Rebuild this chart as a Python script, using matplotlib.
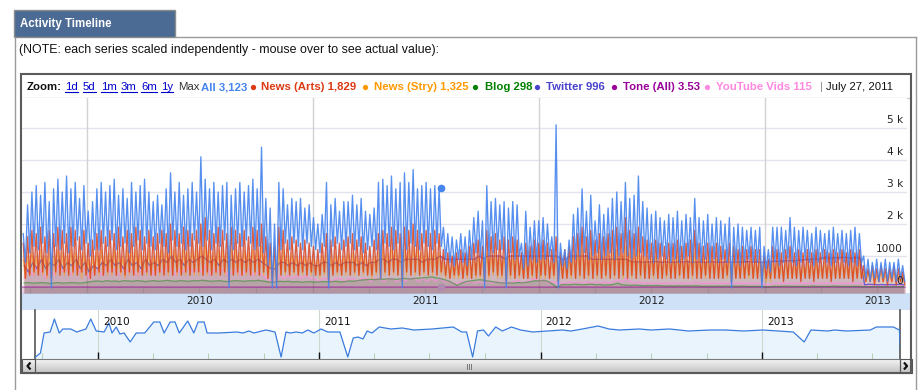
import numpy as np
import matplotlib
matplotlib.use("Agg")
import matplotlib.pyplot as plt
import matplotlib.dates as mdates
import matplotlib.transforms as mtrans
from matplotlib.patches import Rectangle

# ---------------- data ----------------
start_date = "2009-09-18"
# weekly values (hundreds): weekday peak / weekend trough
all_peak = [17, 26, 30, 32, 29, 33, 27, 31, 34, 30,
            35, 31, 33, 28, 32, 24, 27, 31, 33, 30,
            32, 34, 29, 31, 28, 33, 30, 32, 34, 30,
            27, 29, 26, 31, 36, 30, 33, 29, 31, 33,
            30, 41, 34, 31, 33, 30, 32, 33, 29, 31,
            33, 30, 32, 34, 31, 44, 28, 25, 20, 33,
            31, 26, 28, 27, 28, 25, 26, 22, 20, 23,
            33, 26, 28, 24, 27, 27, 29, 26, 28, 24,
            23, 25, 33, 34, 32, 35, 31, 33, 36, 33,
            37, 31, 32, 33, 31, 32, 31, 19, 17, 16,
            15, 17, 16, 18, 22, 24, 21, 32, 27, 28,
            26, 27, 25, 27, 26, 14, 24, 19, 21, 21,
            22, 20, 16, 51, 14, 12, 15, 23, 25, 31,
            24, 29, 21, 26, 23, 25, 28, 30, 27, 33,
            28, 29, 35, 27, 25, 23, 24, 22, 21, 23,
            22, 24, 21, 23, 22, 28, 22, 21, 23, 20,
            22, 21, 20, 22, 19, 20, 19, 18, 19, 18,
            19, 13, 12, 19, 19, 19, 18, 22, 19, 18,
            19, 18, 17, 19, 18, 17, 18, 19, 17, 18,
            17, 18, 19, 17, 10, 9, 8, 9, 8, 9,
            8, 8, 9, 7]
all_trough = [8, 11, 13, 12, 14, 11, 0, 13, 12, 14,
              11, 13, 15, 12, 14, 10, 12, 12, 14, 13,
              15, 12, 13, 14, 11, 13, 15, 12, 14, 13,
              12, 14, 13, 11, 15, 13, 14, 12, 13, 15,
              14, 13, 15, 12, 14, 13, 15, 0, 12, 14,
              13, 15, 14, 12, 13, 11, 7, 0, 0, 12,
              14, 12, 14, 13, 12, 14, 13, 12, 11, 13,
              0, 13, 14, 12, 13, 14, 12, 13, 11, 12,
              13, 12, 3, 14, 13, 12, 14, 0, 12, 14,
              13, 12, 14, 13, 12, 14, 13, 9, 8, 7,
              9, 8, 7, 9, 11, 10, 0, 10, 11, 12,
              12, 0, 11, 9, 10, 6, 7, 9, 8, 9,
              9, 10, 8, 0, 7, 6, 8, 9, 10, 11,
              9, 10, 11, 9, 10, 11, 9, 10, 11, 10,
              9, 10, 11, 10, 9, 8, 9, 10, 9, 8,
              9, 8, 9, 10, 8, 9, 8, 9, 8, 9,
              8, 9, 8, 0, 8, 7, 8, 9, 8, 8,
              0, 6, 5, 8, 7, 8, 9, 8, 7, 8,
              9, 8, 7, 8, 9, 8, 7, 8, 9, 8,
              7, 8, 7, 8, 3, 2, 3, 2, 3, 2,
              3, 2, 3, 2]
arts_peak = [14, 16, 18, 17, 19, 16, 18, 17, 19, 18,
             17, 19, 18, 16, 18, 14, 15, 17, 18, 16,
             18, 17, 19, 16, 18, 17, 19, 18, 16, 18,
             16, 17, 18, 17, 20, 18, 17, 19, 18, 17,
             18, 20, 22, 18, 17, 19, 18, 17, 19, 18,
             17, 18, 16, 19, 18, 20, 16, 14, 13, 19,
             18, 15, 16, 15, 14, 15, 14, 13, 12, 14,
             17, 15, 16, 14, 15, 16, 17, 15, 16, 14,
             13, 15, 17, 18, 17, 19, 18, 17, 19, 18,
             20, 18, 17, 18, 17, 18, 17, 12, 11, 10,
             11, 12, 11, 13, 14, 15, 13, 18, 16, 17,
             15, 16, 15, 16, 15, 11, 14, 13, 15, 14,
             15, 14, 12, 16, 11, 12, 13, 16, 17, 19,
             16, 18, 15, 17, 16, 17, 18, 19, 17, 22,
             18, 17, 19, 16, 15, 14, 15, 14, 13, 14,
             14, 15, 13, 14, 15, 18, 14, 13, 14, 13,
             14, 13, 12, 14, 13, 12, 13, 12, 13, 12,
             12, 10, 9, 13, 12, 11, 12, 13, 11, 12,
             11, 12, 11, 12, 11, 12, 11, 12, 11, 12,
             11, 12, 11, 12, 7, 6, 7, 6, 7, 6,
             6, 7, 6, 5]
arts_trough = [3, 4, 5, 4, 5, 4, 3, 5, 4, 5,
               4, 5, 4, 5, 4, 3, 4, 5, 4, 5,
               5, 4, 5, 4, 5, 4, 5, 4, 5, 4,
               4, 5, 4, 5, 4, 5, 4, 5, 4, 5,
               5, 4, 5, 4, 5, 4, 5, 2, 4, 5,
               4, 5, 4, 5, 4, 5, 3, 2, 2, 4,
               5, 4, 5, 4, 5, 4, 5, 4, 4, 5,
               2, 4, 5, 4, 5, 4, 5, 4, 5, 4,
               4, 5, 3, 5, 4, 5, 4, 2, 5, 4,
               5, 4, 5, 4, 5, 4, 5, 4, 3, 4,
               4, 3, 4, 3, 4, 4, 2, 4, 5, 4,
               4, 2, 4, 3, 4, 3, 3, 4, 3, 4,
               4, 3, 4, 2, 3, 3, 4, 3, 4, 3,
               4, 3, 4, 3, 4, 3, 4, 3, 4, 3,
               4, 3, 4, 3, 3, 4, 3, 3, 4, 3,
               3, 4, 3, 3, 4, 3, 3, 4, 3, 3,
               3, 3, 4, 2, 3, 3, 3, 4, 3, 3,
               2, 3, 3, 3, 3, 2, 3, 3, 3, 2,
               3, 3, 2, 3, 3, 3, 2, 3, 3, 3,
               3, 2, 3, 3, 2, 2, 1, 2, 2, 1,
               2, 1, 2, 1]
stry_peak = [9, 10, 11, 10, 12, 10, 11, 10, 12, 11,
             10, 12, 11, 10, 11, 9, 10, 11, 12, 10,
             11, 12, 11, 10, 12, 11, 12, 11, 10, 12,
             10, 11, 12, 11, 13, 12, 11, 12, 11, 12,
             12, 13, 14, 12, 11, 12, 12, 11, 12, 12,
             11, 12, 11, 12, 12, 13, 10, 9, 9, 12,
             12, 10, 11, 10, 10, 10, 10, 9, 9, 10,
             11, 10, 11, 10, 10, 11, 11, 10, 11, 10,
             9, 10, 11, 12, 11, 12, 12, 11, 12, 12,
             13, 12, 11, 12, 11, 12, 11, 8, 8, 7,
             8, 8, 8, 9, 9, 10, 9, 11, 10, 11,
             10, 10, 10, 10, 10, 8, 9, 9, 10, 9,
             10, 9, 8, 10, 8, 8, 9, 10, 11, 12,
             10, 11, 10, 11, 10, 11, 11, 12, 11, 13,
             11, 11, 12, 10, 10, 9, 10, 9, 9, 9,
             9, 10, 9, 9, 10, 11, 9, 9, 9, 9,
             9, 9, 8, 9, 9, 8, 9, 8, 9, 8,
             8, 7, 6, 8, 8, 7, 8, 8, 7, 8,
             7, 8, 7, 8, 7, 8, 7, 8, 7, 8,
             7, 8, 7, 8, 5, 5, 5, 4, 5, 4,
             4, 5, 4, 4]
stry_trough = [3, 4, 4, 4, 4, 3, 2, 4, 4, 4,
               4, 4, 4, 3, 4, 3, 4, 4, 4, 4,
               4, 4, 4, 3, 4, 4, 4, 4, 4, 4,
               4, 4, 4, 4, 4, 4, 4, 4, 4, 4,
               4, 4, 4, 4, 4, 4, 4, 2, 4, 4,
               4, 4, 4, 4, 4, 4, 3, 2, 2, 4,
               4, 4, 4, 4, 4, 4, 4, 4, 3, 4,
               2, 4, 4, 4, 4, 4, 4, 4, 4, 4,
               3, 4, 3, 4, 4, 4, 4, 2, 4, 4,
               4, 4, 4, 4, 4, 4, 4, 3, 3, 3,
               3, 3, 3, 3, 3, 3, 2, 3, 4, 3,
               3, 2, 3, 3, 3, 3, 3, 3, 3, 3,
               3, 3, 3, 2, 3, 3, 3, 3, 3, 3,
               3, 3, 3, 3, 3, 3, 3, 3, 3, 3,
               3, 3, 3, 3, 3, 3, 3, 3, 3, 3,
               3, 3, 3, 3, 3, 3, 3, 3, 3, 3,
               3, 3, 3, 2, 3, 3, 3, 3, 3, 3,
               2, 2, 2, 3, 3, 3, 3, 3, 3, 3,
               3, 3, 3, 3, 3, 3, 3, 3, 3, 3,
               3, 3, 3, 3, 2, 2, 2, 2, 2, 2,
               2, 2, 2, 2]
# weekly values (hundreds)
twitter_week = [7, 5, 8, 6, 9, 6, 8, 7, 9, 6,
                8, 7, 9, 6, 8, 5, 7, 6, 8, 7,
                9, 7, 8, 6, 9, 7, 8, 6, 9, 7,
                8, 7, 9, 8, 10, 8, 9, 7, 9, 8,
                9, 10, 9, 8, 9, 7, 9, 8, 9, 8,
                9, 8, 9, 8, 9, 8, 7, 6, 6, 8,
                8, 7, 8, 7, 8, 7, 8, 7, 7, 8,
                8, 7, 8, 7, 8, 8, 8, 7, 8, 7,
                8, 8, 9, 9, 8, 9, 9, 8, 9, 9,
                9, 9, 8, 9, 9, 9, 10, 9, 9, 9,
                9, 9, 9, 9, 9, 10, 9, 10, 10, 10,
                10, 9, 10, 10, 10, 10, 10, 10, 10, 10,
                10, 10, 10, 10, 9, 9, 10, 10, 10, 10,
                10, 9, 9, 9, 9, 9, 9, 9, 9, 9,
                8.3, 8.1, 8.2, 8.0, 8.2, 8.1, 8.3, 8.0, 8.2, 8.1,
                8.0, 8.2, 8.1, 8.3, 8.0, 8.1, 8.2, 8.0, 8.1, 8.2,
                8.1, 8.0, 8.2, 8.1, 8.0, 8.2, 8.1, 8.3, 8.1, 8.2,
                8.0, 8.1, 8.2, 8.4, 8.3, 8.5, 8.4, 8.6, 8.5, 8.7,
                8.8, 8.9, 9.1, 9.0, 9.3, 9.6, 9.2, 9.5, 9.4, 9.7,
                9.5, 9.3, 9.6, 9.4, 1.0, 1.2, 1.1, 1.0, 1.1, 1.0,
                1.1, 1.0, 1.2, 1.0]
youtube_week = [3, 6, 4, 7, 5, 3, 6, 4, 7, 5,
                6, 4, 7, 5, 6, 3, 5, 6, 4, 7,
                5, 6, 4, 7, 5, 6, 4, 6, 5, 7,
                4, 6, 5, 7, 6, 4, 6, 5, 7, 5,
                6, 5, 7, 4, 6, 5, 6, 4, 5, 6,
                4, 5, 6, 4, 5, 4, 3, 2, 2, 4,
                3, 4, 3, 4, 3, 4, 3, 3, 2, 3,
                3, 2, 3, 3, 2, 3, 3, 2, 3, 3,
                2, 3, 3, 2, 3, 3, 2, 3, 2, 3,
                3, 2, 3, 2, 3, 2, 3, 2, 2, 1.5,
                1.5, 2, 1.5, 2, 1.5, 2, 1.5, 2, 1.5, 2,
                1.5, 2, 1.5, 2, 2.5, 1.5, 2, 2.5, 3, 2,
                2.5, 1.5, 2, 1.5, 1.5, 1.5, 2, 1.5, 2, 1.5,
                2, 1.5, 2, 1.5, 2, 1.5, 2, 2.5, 2, 3,
                2, 1.5, 2, 1.5, 1.5, 1.5, 1.5, 1.5, 1.5, 1.5,
                1.5, 1.5, 1.5, 1.5, 1.5, 2, 1.5, 1.5, 1.5, 1.5,
                1.5, 1.5, 1.5, 1.5, 1.5, 1.5, 1.5, 1.5, 1.5, 1.5,
                1.5, 1, 1, 1.5, 1.5, 1.5, 1.5, 1.5, 1.5, 1.5,
                1.5, 1.5, 1.5, 1.5, 1.5, 1.5, 1.5, 1.5, 1.5, 1.5,
                1.5, 1.5, 1.5, 1.5, 1, 1, 1, 1, 1, 1,
                1, 1, 1, 1]
blog_week = [1.6, 1.7, 1.5, 1.6, 1.7, 1.6, 1.4, 1.6, 1.7, 1.5,
             1.6, 1.7, 1.6, 1.5, 1.7, 1.9, 2.1, 2.2, 2.0, 2.3,
             2.1, 2.2, 2.0, 2.3, 2.2, 2.1, 2.3, 2.2, 2.0, 2.2,
             2.3, 2.1, 2.2, 2.4, 2.2, 2.1, 2.3, 2.2, 2.1, 2.3,
             2.2, 2.4, 2.3, 2.1, 2.2, 2.3, 2.1, 2.0, 2.2, 2.3,
             2.2, 2.1, 2.3, 2.2, 2.4, 2.2, 2.0, 1.8, 1.9, 2.1,
             2.0, 2.1, 1.9, 2.0, 1.8, 1.9, 2.0, 1.8, 1.9, 2.0,
             1.9, 2.0, 2.1, 1.9, 2.0, 2.2, 2.1, 2.3, 2.5, 2.6,
             2.7, 2.6, 2.8, 2.7, 2.9, 2.8, 2.7, 2.9, 3.0, 2.8,
             3.0, 3.1, 3.2, 3.3, 3.5, 3.2, 3.0, 2.6, 2.2, 1.5,
             0.8, 1.5, 2.0, 2.2, 2.4, 2.6, 2.5, 2.2, 2.0, 1.8,
             1.6, 1.5, 1.6, 1.5, 1.7, 1.6, 1.8, 2.0, 2.3, 2.2,
             2.4, 2.0, 1.2, 0.2, 1.0, 1.1, 1.0, 1.2, 1.1, 1.0,
             1.1, 1.2, 1.0, 1.1, 0.9, 1.0, 1.1, 1.5, 1.0, 0.9,
             0.8, 0.9, 0.8, 0.7, 0.8, 0.7, 0.8, 0.7, 0.6, 0.7,
             0.6, 0.7, 0.6, 0.7, 0.6, 0.7, 0.6, 0.5, 0.6, 0.5,
             0.6, 0.5, 0.6, 0.5, 0.6, 0.5, 0.6, 0.5, 0.5, 0.5,
             0.5, 0.4, 0.4, 0.5, 0.5, 0.5, 0.6, 0.5, 0.5, 0.5,
             0.5, 0.5, 0.6, 0.5, 0.5, 0.5, 0.5, 0.6, 0.5, 0.5,
             0.5, 0.5, 0.5, 0.5, 0.4, 0.4, 0.4, 0.4, 0.4, 0.4,
             0.4, 0.4, 0.4, 0.4]
# monthly average tone, Sep 2009 .. Aug 2013
tone_month = [3.4, 3.5, 3.5, 3.6, 3.4, 3.5, 3.6, 3.5, 3.4, 3.5, 3.6, 3.5,
              3.5, 3.4, 3.6, 3.5, 3.5, 3.6, 3.5, 3.4, 3.5, 3.5, 3.6, 3.5,
              3.5, 3.6, 3.5, 3.4, 3.5, 3.6, 3.5, 3.5, 3.4, 3.5, 3.6, 3.5,
              3.5, 3.4, 3.5, 3.6, 3.5, 3.5, 3.4, 3.5, 3.6, 3.5, 3.5, 3.5]

# overview (range selector) series
ov_dates = ["2009-09-20", "2009-09-28", "2009-10-04", "2009-10-14", "2009-10-21",
            "2009-10-29", "2009-11-04", "2009-11-17", "2009-11-27", "2009-12-12",
            "2009-12-20", "2009-12-29", "2010-01-11", "2010-01-19", "2010-01-24",
            "2010-01-31", "2010-02-06", "2010-02-13", "2010-02-23", "2010-03-05",
            "2010-03-19", "2010-04-03", "2010-04-13", "2010-04-20", "2010-04-30",
            "2010-05-08", "2010-05-15", "2010-05-29", "2010-06-08", "2010-06-15",
            "2010-06-25", "2010-06-30", "2010-07-20", "2010-08-18", "2010-08-28",
            "2010-09-07", "2010-09-15", "2010-10-05", "2010-10-20", "2010-10-30",
            "2010-11-07", "2010-11-14", "2010-11-24", "2010-12-04", "2010-12-13",
            "2010-12-23", "2011-01-04", "2011-01-15", "2011-02-04", "2011-02-17",
            "2011-02-26", "2011-03-06", "2011-03-14", "2011-03-21", "2011-03-29",
            "2011-04-10", "2011-04-29", "2011-05-18", "2011-06-06", "2011-07-06",
            "2011-08-10", "2011-08-24", "2011-09-01", "2011-09-11", "2011-09-19",
            "2011-09-29", "2011-10-07", "2011-10-19", "2011-10-30", "2011-11-14",
            "2011-11-29", "2011-12-19", "2012-02-06", "2012-02-20", "2012-03-10",
            "2012-04-05", "2012-04-23", "2012-05-10", "2012-06-12", "2012-07-01",
            "2012-08-01", "2012-09-01", "2012-10-07", "2012-11-01", "2012-12-01",
            "2013-01-02", "2013-02-21", "2013-03-11", "2013-03-22", "2013-04-19",
            "2013-04-30", "2013-05-20", "2013-06-28", "2013-07-08", "2013-07-27",
            "2013-08-05", "2013-08-15", "2013-08-17"]
ov_vals = [0.0, 0.4, 2.4, 2.5, 3.8, 2.4, 2.8, 2.8, 2.5, 2.8,
           3.8, 2.6, 2.5, 3.4, 2.4, 3.0, 2.3, 2.4, 1.5, 2.4,
           2.4, 3.5, 3.5, 2.4, 3.5, 3.5, 2.4, 3.6, 2.4, 3.5,
           3.5, 2.4, 2.4, 2.5, 2.4, 2.6, 2.4, 2.7, 2.5, 0.0,
           2.5, 2.4, 2.5, 2.4, 2.7, 2.4, 2.8, 2.5, 2.5, 0.0,
           1.9, 2.0, 1.8, 2.6, 2.4, 3.0, 2.8, 2.9, 2.7, 2.8,
           3.0, 2.5, 2.5, 0.0, 2.6, 2.7, 2.1, 3.0, 2.6, 3.0,
           2.7, 2.5, 2.7, 2.6, 2.8, 3.1, 2.8, 2.7, 2.8, 2.7,
           2.8, 2.6, 2.7, 2.7, 2.6, 2.7, 2.5, 1.5, 2.7, 2.6,
           2.7, 2.6, 2.7, 3.0, 3.0, 3.0, 2.7, 0.5]

series_names = ["All", "News (Arts)", "News (Stry)", "Blog", "Twitter", "Tone (All)", "YouTube Vids"]
hover_values = ["3,123", "1,829", "1,325", "298", "996", "3.53", "115"]
hover_all_value = 3123
hover_date = "2011-07-27"
hover_label = "July 27, 2011"
zoom_links = ["1d", "5d", "1m", "3m", "6m", "1y"]
y_ticks = [0, 1000, 2000, 3000, 4000, 5000]
y_tick_labels = ["0", "1000", "2 k", "3 k", "4 k", "5 k"]
years = [2010, 2011, 2012, 2013]
title = "Activity Timeline"
note = "(NOTE: each series scaled independently - mouse over to see actual value):"

# ---------------- style ----------------
colors = ["#4684ee", "#dc3912", "#ff9900", "#008000", "#4942cc", "#990099", "#ff88e0"]
plt.rcParams["font.family"] = ["DejaVu Sans"]
LEG_FONT = "Liberation Sans"
W, H = 922, 390
fig = plt.figure(figsize=(W / 100, H / 100), dpi=100)
fig.patch.set_facecolor("white")


def box(x0, y0, x1, y1):
    return [x0 / W, 1 - y1 / H, (x1 - x0) / W, (y1 - y0) / H]


def d2n(s):
    return mdates.date2num(np.datetime64(s))


bg = fig.add_axes([0, 0, 1, 1], zorder=0)
bg.set_xlim(0, W); bg.set_ylim(H, 0); bg.axis("off")
fg = fig.add_axes([0, 0, 1, 1], zorder=20)
fg.set_xlim(0, W); fg.set_ylim(H, 0); fg.axis("off"); fg.patch.set_alpha(0)

# panel + tab
bg.add_patch(Rectangle((14, 10), 161, 27, fc="#4b6b95", ec="#8c8c8c", lw=1))
bg.text(20, 26.7, title, color="white", fontsize=8.3, fontweight="bold",
        family=LEG_FONT, va="baseline")
bg.plot([175, 916], [37, 37], color="#9a9a9a", lw=1)
bg.plot([14.5, 14.5], [37, 391], color="#9a9a9a", lw=1)
bg.plot([916, 916], [37, 391], color="#9a9a9a", lw=1)
bg.text(19, 53.5, note, color="#111111", fontsize=8.9, family=LEG_FONT, va="baseline")

# legend row
ly = 90
bg.text(27, ly, "Zoom:", fontsize=8.2, fontweight="bold", color="#111", va="baseline", family=LEG_FONT)
link_x = [65, 83, 101, 121, 141, 161]
link_texts = []
for lx, lab in zip(link_x, zoom_links):
    link_texts.append(bg.text(lx, ly, lab, fontsize=8.2, color="#0000cc", va="baseline", family=LEG_FONT))
bg.text(178.5, ly, "Max", fontsize=8.2, color="#333333", va="baseline", family=LEG_FONT)
leg_x = [201, 261, 374, 485, 546, 623, 716]
dot_x = [None, 253, 365, 475, 537, 614, 707]
for i, (name, val) in enumerate(zip(series_names, hover_values)):
    bg.text(leg_x[i], ly, f"{name} {val}", fontsize=8.2, color=colors[i], va="baseline",
            family=LEG_FONT, fontweight="bold")
    if dot_x[i] is not None:
        bg.plot([dot_x[i]], [86.5], "o", ms=3.8, color=colors[i], mew=0)
bg.text(820, ly, "|", fontsize=8.2, color="#888888", va="baseline", family=LEG_FONT)
bg.text(826, ly, hover_label, fontsize=8.2, color="#111111", va="baseline", family=LEG_FONT)
bg.plot([21, 911], [98, 98], color="#cfcfcf", lw=1)

# ---------------- main plot ----------------
ax = fig.add_axes(box(22, 98, 907, 293), zorder=2)
x0n, x1n = d2n("2009-09-18"), d2n("2013-08-18")
ax.set_xlim(x0n, x1n)
YB, YT = -156, 5937
ax.set_ylim(YB, YT)
ax.set_xticks([]); ax.set_yticks([])
for s in ax.spines.values():
    s.set_visible(False)

n = len(all_peak)
wk = np.datetime64(start_date) + np.arange(n) * np.timedelta64(7, "D")
t_pk = mdates.date2num(wk + np.timedelta64(48, "h"))
t_tr = mdates.date2num(wk + np.timedelta64(132, "h"))
t_mid = mdates.date2num(wk + np.timedelta64(84, "h"))


def zig(p, t):
    x = np.empty(2 * n); v = np.empty(2 * n)
    x[0::2] = t_pk; x[1::2] = t_tr
    v[0::2] = np.asarray(p[:n], float) * 100; v[1::2] = np.asarray(t[:n], float) * 100
    return x, v


months = np.arange(np.datetime64("2009-09"), np.datetime64("2013-09")).astype("datetime64[D]") + 14
tone_x = mdates.date2num(months)
tone_disp = np.asarray(tone_month) * 8

series = [
    zig(all_peak, all_trough),
    zig(arts_peak, arts_trough),
    zig(stry_peak, stry_trough),
    (t_mid, np.asarray(blog_week[:n]) * 100),
    (t_mid, np.asarray(twitter_week[:n]) * 100),
    (tone_x, tone_disp),
    (t_mid, np.asarray(youtube_week[:n]) * 100),
]

# grid
for v in y_ticks[1:]:
    ax.axhline(v, color="#e3e3ef", lw=1, zorder=0.5)
yr_x = [d2n(f"{y}-01-01") for y in years]
for xv in yr_x:
    ax.axvline(xv, color="#d2d2d2", lw=1, zorder=0.5)

# fills (drawn from the back series to the front one)
fill_order = [5, 6, 3, 4, 2, 1, 0]
for i in fill_order:
    x, v = series[i]
    ax.fill_between(x, YB, v, color=colors[i], alpha=0.15, lw=0, zorder=1)

# quarter ticks in the bottom strip
quarters = [d2n(f"{y}-{m:02d}-01") for y in range(2009, 2014) for m in (1, 4, 7, 10)]
ax.vlines([q for q in quarters if x0n < q < x1n], YB, 0, color="#9c8a94", lw=0.8, zorder=3)

# lines
line_alpha = [0.9, 0.8, 0.5, 0.45, 0.75, 0.6, 0.7]
for k, i in enumerate(fill_order):
    x, v = series[i]
    ax.plot(x, v, color=colors[i], lw=0.95, alpha=line_alpha[i], zorder=4 + k * 0.1)

# hover markers
hx = d2n(hover_date)
ax.plot([hx], [hover_all_value], "o", ms=4.5, color=colors[0], zorder=6)
ax.plot([hx], [np.interp(hx, tone_x, tone_disp)], "o", ms=4.5, color="#b08ab0", zorder=6)

# y labels (inside, right)
ytr = mtrans.blended_transform_factory(ax.transAxes, ax.transData)
for v, lab in zip(y_ticks, y_tick_labels):
    ax.text((903 - 22) / 885, v + 7.5 * 31.25, lab, transform=ytr, ha="right", va="center",
            fontsize=7.6, color="#222222", zorder=10)

# date band
bg.add_patch(Rectangle((21, 293), 890, 17, fc="#cfe1f7", ec="none"))
xtr = mtrans.blended_transform_factory(ax.transData, ax.transAxes)
for y in years:
    ax.text(d2n(f"{y}-07-02"), (293 - 301.5) / 195, str(y), transform=xtr, ha="center",
            va="center", fontsize=7.6, color="#222222", clip_on=False)

# ---------------- overview ----------------
ov = fig.add_axes(box(35, 310, 900, 359), zorder=2)
ov.set_xlim(d2n("2009-09-19"), d2n("2013-08-16"))
ov.set_ylim(-0.2, 4.7)
ov.set_xticks([]); ov.set_yticks([])
for k, s in ov.spines.items():
    if k in ("left", "right"):
        s.set_color("#555555"); s.set_linewidth(1.2)
    else:
        s.set_visible(False)
ovx = mdates.date2num(np.array(ov_dates, dtype="datetime64[D]"))
ov.fill_between(ovx, -0.2, ov_vals, color="#eaf4fd", lw=0, zorder=1)
ov.plot(ovx, ov_vals, color="#3a7bde", lw=0.9, zorder=3)
otr = mtrans.blended_transform_factory(ov.transData, ov.transAxes)
oq = [q for q in quarters if d2n("2009-09-19") < q < d2n("2013-08-16")]
ov.vlines(oq, 0, 6 / 49, transform=otr, color="#b8d0b8", lw=0.8, zorder=2)
for xv, y in zip(yr_x, years):
    ov.axvline(xv, color="#cfd8cf", lw=0.8, zorder=2)
    ov.vlines([xv], 0, 7 / 49, transform=otr, color="#111111", lw=1, zorder=4)
    lt = otr + mtrans.ScaledTranslation(5 / 100, 0, fig.dpi_scale_trans)
    ov.text(xv, (359 - 322) / 49, str(y), transform=lt, ha="left", va="center",
            fontsize=7.6, color="#111111", zorder=5)

# scrollbar
grad = np.linspace(0, 1, 30).reshape(-1, 1)
bg.imshow(grad, extent=(22, 912, 373, 359), cmap=matplotlib.colors.LinearSegmentedColormap.from_list(
    "g", ["#f6f6f6", "#dcdcdc", "#c2c2c2"]), aspect="auto", zorder=1)
fg.add_patch(Rectangle((35, 359), 865, 13.5, fc="none", ec="#7a7a7a", lw=0.8))
fg.add_patch(Rectangle((21.5, 359), 13.5, 13.5, fc="none", ec="#555555", lw=0.8))
fg.add_patch(Rectangle((900, 359), 11.5, 13.5, fc="none", ec="#555555", lw=0.8))
fg.plot([30.5, 27.5, 30.5], [362.5, 366, 369.5], color="#111111", lw=1.6, solid_capstyle="butt")
fg.plot([904, 907, 904], [362.5, 366, 369.5], color="#111111", lw=1.6, solid_capstyle="butt")
for gx in (466.5, 468.5, 470.5):
    fg.plot([gx, gx], [363.5, 368.5], color="#777777", lw=0.7)

# chart frame
fg.add_patch(Rectangle((21, 74), 890, 299, fc="none", ec="#5a5a5a", lw=1.5))

# underline links
fig.canvas.draw()
r = fig.canvas.get_renderer()
for t in link_texts:
    bb = t.get_window_extent(r)
    bg.plot([bb.x0, bb.x1], [91.5, 91.5], color="#0000cc", lw=0.8)

fig.savefig("out.png", dpi=100, facecolor="white")
